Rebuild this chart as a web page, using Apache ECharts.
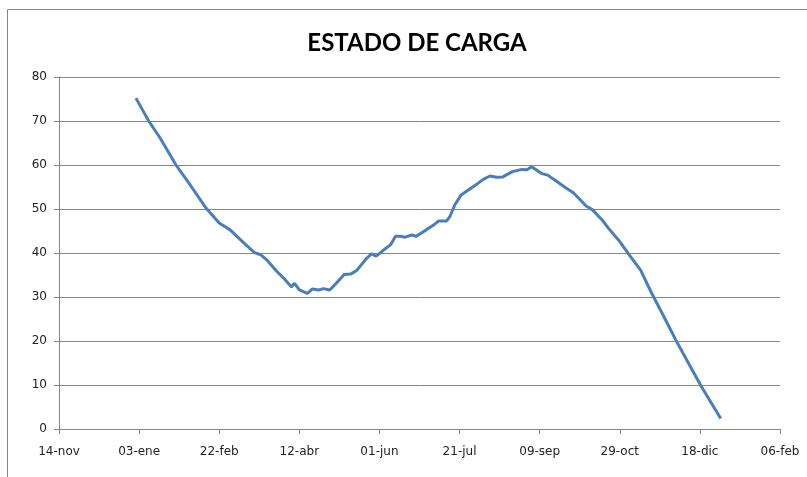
<!DOCTYPE html>
<html lang="es">
<head>
    <meta charset="UTF-8">
    <title>Estado de carga</title>
    <script src="https://cdn.jsdelivr.net/npm/echarts@6/dist/echarts.min.js"></script>
    <style>
        body { margin: 0; background: #fff; }
    </style>
</head>
<body>
<div id="main" style="width: 807px;height:477px;"></div>
<script type="text/javascript">
    // datos (fechas de 2008, MM-DD)
    var fechas = ['01-01', '01-09', '01-16', '01-23', '01-26', '02-04', '02-14', '02-22', '02-29', '03-08',
        '03-15', '03-19', '03-23', '03-29', '04-03', '04-07', '04-09', '04-12', '04-17', '04-20',
        '04-24', '04-27', '05-01', '05-06', '05-10', '05-14', '05-18', '05-24', '05-27', '05-30',
        '06-03', '06-08', '06-11', '06-14', '06-17', '06-21', '06-24', '06-30', '07-05', '07-08',
        '07-13', '07-15', '07-18', '07-22', '07-26', '08-01', '08-05', '08-09', '08-13', '08-17',
        '08-23', '08-29', '09-01', '09-04', '09-10', '09-14', '09-20', '09-25', '09-30', '10-04',
        '10-08', '10-12', '10-18', '10-22', '10-29', '11-04', '11-11', '11-18', '11-25', '12-03',
        '12-11', '12-19', '12-31'];
    var carga = [75.2, 70.0, 66.2, 61.9, 60.0, 55.4, 50.1, 46.8, 45.2, 42.4,
        40.1, 39.6, 38.3, 35.8, 34.0, 32.3, 33.1, 31.6, 30.8, 31.8,
        31.6, 31.9, 31.6, 33.5, 35.1, 35.2, 36.1, 38.8, 39.8, 39.3,
        40.5, 41.9, 43.8, 43.8, 43.6, 44.1, 43.8, 45.2, 46.4, 47.3,
        47.3, 48.3, 50.9, 53.2, 54.2, 55.7, 56.8, 57.5, 57.2, 57.3,
        58.5, 59.0, 58.9, 59.6, 58.1, 57.7, 56.2, 54.9, 53.7, 52.2,
        50.7, 49.8, 47.5, 45.6, 42.6, 39.5, 36.1, 30.8, 25.9, 20.2,
        14.9, 9.6, 2.4];
    var meses = ['ene', 'feb', 'mar', 'abr', 'may', 'jun', 'jul', 'ago', 'sep', 'oct', 'nov', 'dic'];

    var DIA = 86400000;
    var origen = Date.UTC(2007, 10, 14); // 14-nov, eje x en dias desde aqui

    var serie = [];
    for (var i = 0; i < fechas.length; i++) {
        var p = fechas[i].split('-');
        var t = (Date.UTC(2008, +p[0] - 1, +p[1]) - origen) / DIA;
        serie.push([t, carga[i]]);
    }

    function etiqueta(v) {
        var d = new Date(origen + v * DIA);
        var dd = d.getUTCDate();
        return (dd < 10 ? '0' + dd : dd) + '-' + meses[d.getUTCMonth()];
    }

    var myChart = echarts.init(document.getElementById('main'));
    var gris = '#868686';
    var option = {
        backgroundColor: '#fff',
        animation: false,
        title: {
            text: 'ESTADO DE CARGA',
            left: 412,
            top: 26,
            textAlign: 'center',
            textStyle: {
                fontFamily: 'Lato',
                fontWeight: 'bold',
                fontSize: 24,
                color: '#000'
            }
        },
        graphic: [{
            type: 'rect',
            shape: {x: 7.5, y: 9.5, width: 830, height: 490},
            style: {fill: 'none', stroke: gris, lineWidth: 1},
            silent: true
        }],
        grid: {
            left: 59,
            right: 27,
            top: 77,
            bottom: 48
        },
        xAxis: {
            type: 'value',
            min: 0,
            max: 450,
            interval: 50,
            splitLine: {show: false},
            axisLine: {lineStyle: {color: gris}},
            axisTick: {length: 5, lineStyle: {color: gris}},
            axisLabel: {
                margin: 17,
                color: '#222',
                fontFamily: 'DejaVu Sans',
                fontSize: 12,
                formatter: etiqueta
            }
        },
        yAxis: {
            type: 'value',
            min: 0,
            max: 80,
            interval: 10,
            axisLine: {show: true, lineStyle: {color: gris}},
            axisTick: {show: true, length: 5, lineStyle: {color: gris}},
            splitLine: {lineStyle: {color: gris}},
            axisLabel: {
                margin: 12,
                color: '#222',
                fontFamily: 'DejaVu Sans',
                fontSize: 12
            }
        },
        series: [{
            type: 'line',
            data: serie,
            showSymbol: false,
            lineStyle: {color: '#4a7ebb', width: 3},
            itemStyle: {color: '#4a7ebb'}
        }]
    };
    myChart.setOption(option);
</script>
</body>
</html>
